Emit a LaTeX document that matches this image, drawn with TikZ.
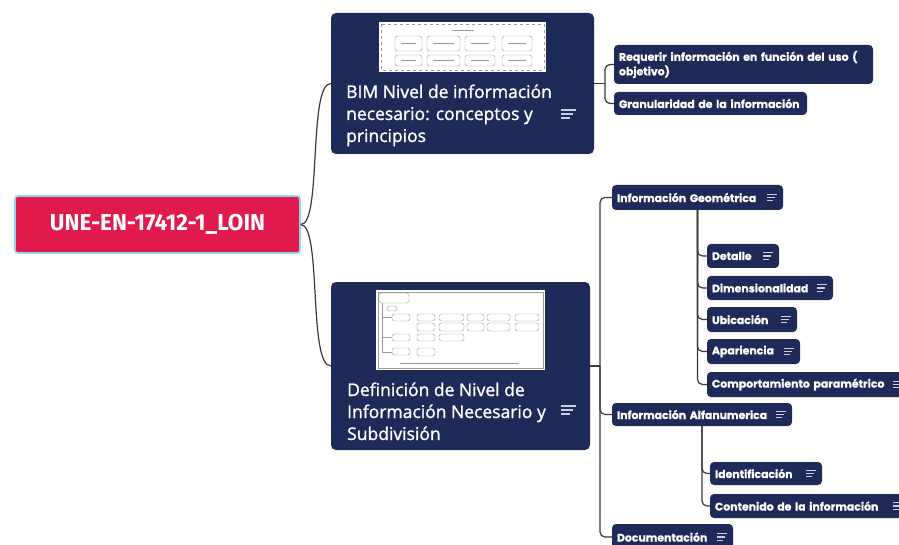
\documentclass[tikz,border=0pt]{standalone}
\usepackage{fontspec}
\setmainfont{Open Sans}
\newfontfamily\rootfont{Fira Sans}[FakeStretch=0.98]
\newfontfamily\topicfont{Open Sans}[FakeBold=1.2]
\newfontfamily\leaffont{Poppins}[BoldFeatures={FakeBold=0.6}]

\definecolor{navy}{HTML}{1E2B58}
\definecolor{rootred}{HTML}{E11A4C}
\definecolor{rootedge}{HTML}{8ED3F2}
\definecolor{wire}{HTML}{3A3A3A}
\definecolor{notecol}{HTML}{C9CEE2}
\definecolor{thumbline}{HTML}{9A9A9A}

\tikzset{
  rootbox/.style={fill=rootred, draw=rootedge, line width=1.6pt, rounded corners=3pt,
    text=white, font=\rootfont\bfseries\fontsize{23}{26}\selectfont, inner sep=0pt},
  topicbox/.style={fill=navy, rounded corners=5pt, inner sep=0pt},
  topictext/.style={text=white, font=\topicfont\fontsize{17.5}{22}\selectfont,
    align=left, inner sep=0pt},
  leafbox/.style={fill=navy, rounded corners=4pt, text=white, inner xsep=5pt, inner ysep=0pt,
    font=\leaffont\bfseries\fontsize{10.9}{14.5}\selectfont, align=left},
  wirestyle/.style={draw=wire, line width=1.2pt, rounded corners=5pt},
  thumbbox/.style={draw=thumbline, line width=0.4pt, rounded corners=2.5pt},
  pics/bignotes/.style={code={
    \draw[notecol, line width=1.8pt] (0,-4) -- (15,-4) (0,0) -- (12,0) (0,4) -- (9,4);}},
  pics/smallnotes/.style={code={
    \draw[notecol, line width=1.3pt] (0,-3.3) -- (10,-3.3) (0,0) -- (8,0) (0,3.3) -- (6,3.3);}},
}

% leaf node: name, left, top, right, bottom, text
\newcommand\leaf[6]{%
  \pgfmathsetmacro\leafw{#4-#2-10}%
  \node[leafbox, minimum width=#4-#2, minimum height=#5-#3, text width=\leafw pt]
    (#1) at ({(#2+#4)/2},{(#3+#5)/2}) {#6};}

\begin{document}
\begin{tikzpicture}[x=1pt, y=-1pt]
\useasboundingbox (0,0) rectangle (899,545);
\clip (0,0) rectangle (899,545);
\fill[white] (0,0) rectangle (899,545);

% ---------- central topic ----------
\node[rootbox, minimum width=285, minimum height=57] (root) at (157.5,224.5) {UNE-EN-17412-1\_LOIN};

% ---------- first main topic ----------
\node[topicbox, minimum width=263, minimum height=141] (b1) at (462.5,83.5) {};
\fill[white] (379,22) rectangle (546,72);
\draw[thumbline, line width=0.4pt, dashed] (381,24) rectangle (544,70);
\draw[thumbline, line width=0.8pt] (452,30) -- (474,30);
\foreach \a/\b in {395/422, 427/460, 465/495, 502/532}{
  \draw[thumbbox] (\a,36) rectangle (\b,51);
  \draw[thumbline, line width=0.6pt] (\a+6,43.5) -- (\b-6,43.5);
  \draw[thumbbox] (\a,55) rectangle (\b,66);
  \draw[thumbline, line width=0.6pt] (\a+6,60.5) -- (\b-6,60.5);
}
\node[topictext, anchor=base west] (b1t) at (346,142)
  {BIM Nivel de información\\necesario: conceptos y\\principios};
\pic at (561,114) {bignotes};

% ---------- second main topic ----------
\node[topicbox, minimum width=259, minimum height=168] (b2) at (460.5,366) {};
\fill[white] (376,290) rectangle (545,370);
\draw[thumbline, line width=0.4pt] (378,292) rectangle (543,368);
\draw[thumbbox] (379,293) rectangle (409,303);
\draw[thumbbox] (387,306) rectangle (397,311);
\draw[thumbline, line width=0.4pt] (382,303) -- (382,352);
\foreach \yy in {317.5, 337.5, 352}{\draw[thumbline, line width=0.4pt] (382,\yy) -- (392,\yy);}
\foreach \a/\b in {392/410, 417/435, 439/464, 467/484, 487/510, 515/539}{
  \draw[thumbbox] (\a,314) rectangle (\b,321);}
\foreach \a/\b in {417/435, 439/464, 467/484, 487/510, 515/539}{
  \draw[thumbbox] (\a,323) rectangle (\b,331);}
\foreach \a/\b in {392/410, 417/435, 439/464}{
  \draw[thumbbox] (\a,334) rectangle (\b,341);}
\draw[thumbbox] (392,348) rectangle (410,355);
\draw[thumbbox] (417,348) rectangle (435,356);
\draw[thumbline, line width=0.7pt] (400,363) -- (519,363);
\node[topictext, anchor=base west] (b2t) at (347,440)
  {Definición de Nivel de\\Información Necesario y\\Subdivisión};
\pic at (561,410) {bignotes};

% ---------- leaves of the first topic ----------
\leaf{req}{614}{45}{873}{84}{Requerir información en función del uso (\\objetivo)}
\leaf{gran}{614}{92}{807}{115}{Granularidad de la información}

% ---------- leaves of the second topic ----------
\leaf{geo}{612}{185}{783}{210}{Información Geométrica}
\leaf{det}{707}{244}{779}{268}{Detalle}
\leaf{dim}{707}{276}{833}{300}{Dimensionalidad}
\leaf{ubi}{707}{307}{797}{332}{Ubicación}
\leaf{apa}{707}{339}{800}{364}{Apariencia}
\leaf{comp}{707}{372}{915}{397}{Comportamiento paramétrico}
\leaf{alfa}{612}{403}{792}{426}{Información Alfanumerica}
\leaf{ident}{710}{462}{822}{485}{Identificación}
\leaf{cont}{710}{494}{915}{518}{Contenido de la información}
\leaf{doc}{612}{524}{733}{550}{Documentación}

\foreach \n in {geo, det, dim, ubi, apa, alfa, ident, doc}{
  \pic at ([xshift=-16pt]\n.east) {smallnotes};}
\pic at (comp.west -| 893,0) {smallnotes};
\pic at (cont.west -| 893,0) {smallnotes};

% ---------- connectors ----------
\draw[wire, line width=1.2pt] (root.east) .. controls (322,225) and (308,83.5) .. (b1.west);
\draw[wire, line width=1.2pt] (root.east) .. controls (322,225) and (308,366) .. (b2.west);

\coordinate (j1) at (605,83.5);
\draw[wirestyle] (b1.east) -- (j1);
\draw[wirestyle] (req.west) -| (j1) |- (gran.west);

\coordinate (j2) at (600,366);
\draw[wirestyle] (b2.east) -- (j2);
\draw[wirestyle] (geo.west) -| (j2) |- (doc.west);
\draw[wirestyle] (j2) |- (alfa.west);

\draw[wirestyle] (geo.south) |- (det.west);
\draw[wirestyle] (geo.south) |- (dim.west);
\draw[wirestyle] (geo.south) |- (ubi.west);
\draw[wirestyle] (geo.south) |- (apa.west);
\draw[wirestyle] (geo.south) |- (comp.west);

\draw[wirestyle] (alfa.south) |- (ident.west);
\draw[wirestyle] (alfa.south) |- (cont.west);
\end{tikzpicture}
\end{document}
